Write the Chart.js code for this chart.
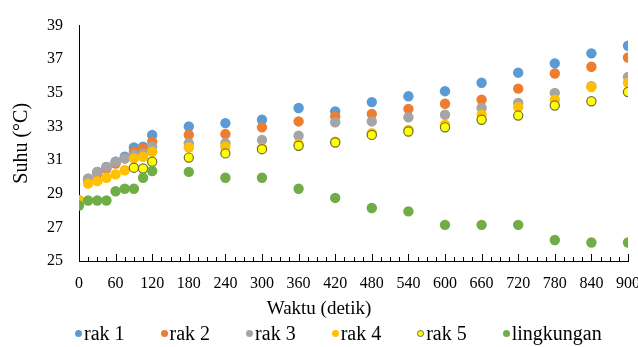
<!DOCTYPE html>
<html>
<head>
<meta charset="utf-8">
<script src="https://cdn.jsdelivr.net/npm/chart.js@4.4.0/dist/chart.umd.min.js"></script>
<style>
    html, body { margin: 0; padding: 0; background: #fff; }
    #wrap { position: relative; width: 638px; height: 347px; }
    #legend {
        position: absolute; left: 75px; top: 321px; height: 24px;
        display: flex; align-items: center; gap: 36px;
        font-family: 'Liberation Serif', 'Times New Roman', serif; font-size: 20px; color: #000;
    }
    #legend .item { display: flex; align-items: center; white-space: nowrap; }
    #legend .dot { width: 7px; height: 7px; border-radius: 50%; margin-right: 2px; box-sizing: border-box; }
</style>
</head>
<body>
<div id="wrap">
    <canvas id="chart" width="638" height="347"></canvas>
    <div id="legend"></div>
</div>
<script>
// waktu (detik)
const waktu = [0, 15, 30, 45, 60, 75, 90, 105, 120, 180, 240, 300, 360, 420, 480, 540, 600, 660, 720, 780, 840, 900];

// suhu (°C) per rak
const rak1 = [28.6, 29.9, 30.3, 30.6, 30.9, 31.2, 31.75, 31.8, 32.5, 33.0, 33.2, 33.4, 34.1, 33.9, 34.45, 34.8, 35.1, 35.6, 36.2, 36.75, 37.35, 37.8];
const rak2 = [28.6, 29.8, 30.2, 30.5, 30.8, 31.1, 31.5, 31.7, 32.1, 32.5, 32.55, 32.95, 33.3, 33.6, 33.75, 34.05, 34.35, 34.6, 35.25, 36.15, 36.55, 37.1];
const rak3 = [28.6, 29.9, 30.3, 30.6, 30.9, 31.1, 31.3, 31.4, 31.8, 32.0, 32.0, 32.2, 32.45, 33.25, 33.3, 33.55, 33.7, 34.1, 34.4, 35.0, 35.4, 35.95];
const rak4 = [28.6, 29.6, 29.75, 29.95, 30.15, 30.4, 31.1, 31.2, 31.5, 31.75, 31.8, 31.7, 31.95, 32.1, 32.6, 32.8, 33.1, 33.7, 34.15, 34.6, 35.35, 35.6];
const rak5 = [null, null, null, null, null, null, 30.55, 30.5, 30.9, 31.15, 31.4, 31.65, 31.85, 32.05, 32.5, 32.7, 32.95, 33.4, 33.65, 34.25, 34.5, 35.05];
const lingkungan = [28.3, 28.6, 28.6, 28.6, 29.15, 29.3, 29.3, 29.95, 30.35, 30.3, 29.95, 29.95, 29.3, 28.75, 28.15, 27.95, 27.15, 27.15, 27.15, 26.25, 26.1, 26.1];

const yTicks = [25, 27, 29, 31, 33, 35, 37, 39];

const serif = "'Liberation Serif', 'Times New Roman', serif";

const toPoints = (vals) => waktu.map((t, i) => ({ x: t, y: vals[i] }));

const series = [
    { label: 'rak 1', data: rak1, color: '#5B9BD5', border: '#5B9BD5' },
    { label: 'rak 2', data: rak2, color: '#ED7D31', border: '#ED7D31' },
    { label: 'rak 3', data: rak3, color: '#A5A5A5', border: '#A5A5A5' },
    { label: 'rak 4', data: rak4, color: '#FFC000', border: '#FFC000' },
    { label: 'rak 5', data: rak5, color: '#FFFF00', border: '#6E6E3C' },
    { label: 'lingkungan', data: lingkungan, color: '#70AD47', border: '#70AD47' },
];

// ticks pointing into the plot (major every 60 s, minor every 15 s)
// plus the x title, which Excel centres on the whole chart, not the plot
const xDecor = {
    id: 'xDecor',
    afterDraw(chart) {
        const { ctx, chartArea } = chart;
        const x = chart.scales.x;
        ctx.save();
        ctx.strokeStyle = '#000';
        ctx.lineWidth = 1;
        ctx.beginPath();
        for (let t = 0; t <= 900; t += 15) {
            const px = Math.round(x.getPixelForValue(t)) + 0.5;
            const len = t % 60 === 0 ? 7 : 4;
            ctx.moveTo(px, chartArea.bottom);
            ctx.lineTo(px, chartArea.bottom - len);
        }
        ctx.stroke();

        ctx.fillStyle = '#000';
        ctx.font = '19px ' + serif;
        ctx.textAlign = 'center';
        ctx.textBaseline = 'middle';
        ctx.fillText('Waktu (detik)', chart.width / 2, chartArea.bottom + 48);
        ctx.restore();
    }
};

const config = {
    type: 'scatter',
    data: {
        datasets: series.map((s, i) => ({
            label: s.label,
            data: toPoints(s.data),
            backgroundColor: s.color,
            borderColor: s.border,
            borderWidth: i === 4 ? 1.2 : 0,
            pointRadius: i === 4 ? 4.6 : 5.2,
            pointHoverRadius: 5,
            order: series.length - i,
        }))
    },
    options: {
        responsive: false,
        animation: false,
        layout: { padding: { left: 10, right: 0, top: 9, bottom: 28 } },
        plugins: {
            tooltip: { enabled: false },
            legend: { display: false }
        },
        scales: {
            x: {
                type: 'linear',
                min: 0,
                max: 900,
                afterFit(scale) {
                    scale.height = 58;
                    scale.paddingRight = 10;
                },
                ticks: {
                    stepSize: 60,
                    color: '#000',
                    padding: 13,
                    maxRotation: 0,
                    font: { family: serif, size: 16 }
                },
                grid: { display: true, drawOnChartArea: false, drawTicks: false, color: '#000' },
                border: { display: true, color: '#000', width: 1 },
                title: { display: false }
            },
            y: {
                min: 25,
                max: 39,
                afterFit(scale) { scale.width = 69; },
                afterBuildTicks(scale) {
                    scale.ticks = yTicks.map(v => ({ value: v }));
                },
                ticks: {
                    color: '#000',
                    padding: 16,
                    font: { family: serif, size: 16 }
                },
                grid: { display: false, drawTicks: false },
                border: { display: true, color: '#000', width: 1 },
                title: {
                    display: true,
                    text: 'Suhu (°C)',
                    color: '#000',
                    font: { family: serif, size: 20 },
                    padding: { top: 0, bottom: 2 }
                }
            }
        }
    },
    plugins: [xDecor]
};

const chart = new Chart(document.getElementById('chart'), config);

// legend below the plot, built from the datasets
const legendEl = document.getElementById('legend');
chart.data.datasets.forEach((d) => {
    const item = document.createElement('span');
    item.className = 'item';
    const dot = document.createElement('span');
    dot.className = 'dot';
    dot.style.background = d.backgroundColor;
    if (d.borderWidth) dot.style.border = '1px solid ' + d.borderColor;
    item.appendChild(dot);
    item.appendChild(document.createTextNode(d.label));
    legendEl.appendChild(item);
});
</script>
</body>
</html>
